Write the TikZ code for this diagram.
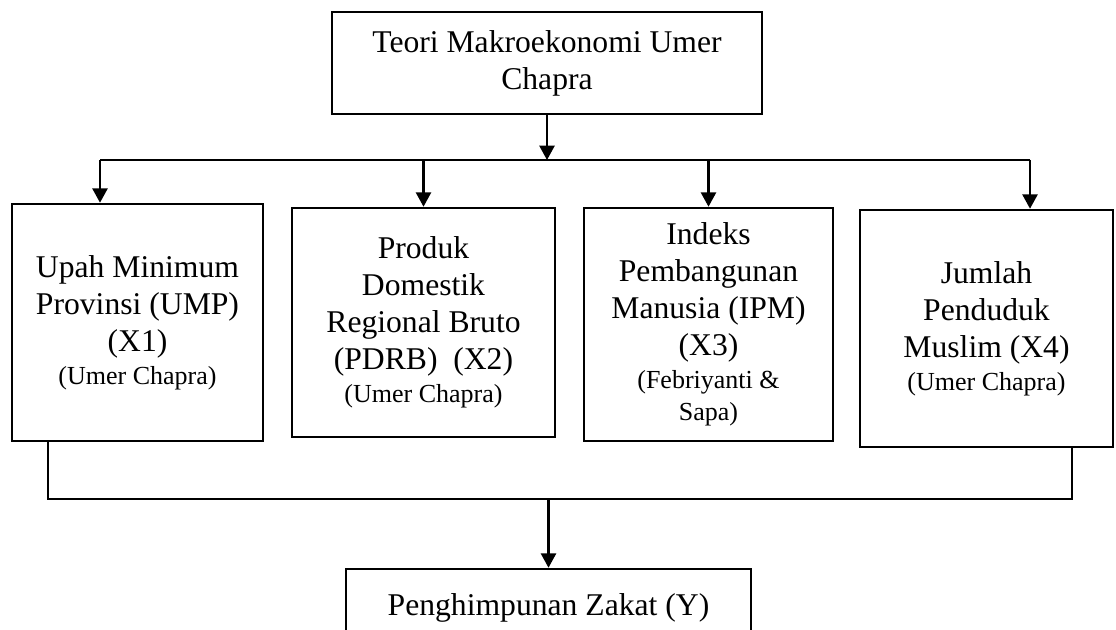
\documentclass[tikz,border=0pt]{standalone}
\usepackage{fontspec}
\setmainfont{Liberation Serif}
\usetikzlibrary{arrows.meta, positioning}
\newcommand{\srcfont}{\fontsize{18.5}{23}\selectfont}

\begin{document}
\begin{tikzpicture}[
		x=0.025cm, y=-0.025cm,
		box/.style={draw, line width=1.8pt, align=center, inner sep=0pt, font=\fontsize{22.5}{26.3}\selectfont},
		link/.style={line width=1.5pt},
		arr/.style={link, -{Triangle[length=0.36cm, width=0.38cm]}}
		]
		\useasboundingbox (0,0) rectangle (1116,630);
		\node[box, minimum width=10.75cm, minimum height=2.55cm] (teori) at (547,63) {Teori Makroekonomi Umer\\Chapra};
		\node[box, minimum width=6.275cm, minimum height=5.925cm] (ump) at (137.5,322.5) {Upah Minimum\\Provinsi (UMP)\\(X1)\\[-3pt]{\srcfont (Umer Chapra)}};
		\node[box, minimum width=6.575cm, minimum height=5.725cm] (pdrb) at (423.5,322.5) {Produk\\Domestik\\Regional Bruto\\(PDRB)\ \ (X2)\\[-3pt]{\srcfont (Umer Chapra)}};
		\node[box, minimum width=6.225cm, minimum height=5.825cm] (ipm) at (708.5,324.5) {Indeks\\Pembangunan\\Manusia (IPM)\\(X3)\\[-3pt]{\srcfont (Febriyanti \&}\\[-3pt]{\srcfont Sapa)}};
		\node[box, minimum width=6.325cm, minimum height=5.925cm] (muslim) at (986.5,328.5) {Jumlah\\Penduduk\\Muslim (X4)\\[-3pt]{\srcfont (Umer Chapra)}};
		\node[box, minimum width=10.125cm, minimum height=1.95cm] (zakat) at (548.5,608) {Penghimpunan Zakat (Y)};
		\coordinate (busL) at (100,160);
		\coordinate (busR) at (1030,160);
		\coordinate (joinL) at (48,499);
		\coordinate (joinR) at (1072,499);
		\draw[link] (busL) -- (busR);
		\draw[arr] (teori.south) -- (teori.south |- busL);
		\draw[arr] (busL) -- (busL |- ump.north);
		\draw[arr] (pdrb.north |- busL) -- (pdrb.north);
		\draw[arr] (ipm.north |- busL) -- (ipm.north);
		\draw[arr] (busR) -- (busR |- muslim.north);
		\draw[link] (ump.south -| joinL) -- (joinL) -- (joinR) -- (muslim.south -| joinR);
		\draw[arr] (zakat.north |- joinL) -- (zakat.north);
	\end{tikzpicture}
\end{document}
